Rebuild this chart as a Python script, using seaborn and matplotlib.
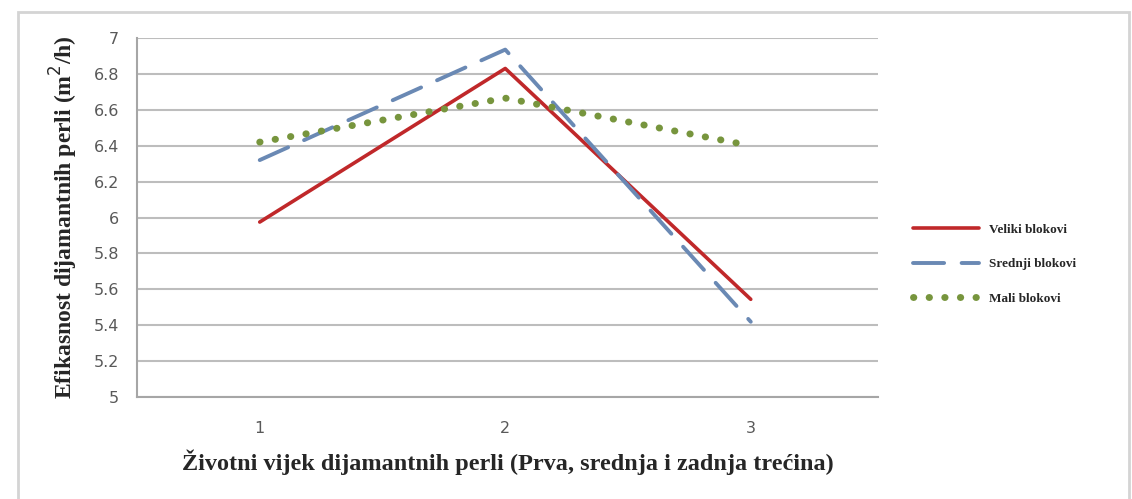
import matplotlib.pyplot as plt
import pandas as pd
import seaborn as sns
from matplotlib.patches import Rectangle

# data
thirds = [1, 2, 3]
veliki = [5.975, 6.83, 5.545]
srednji = [6.32, 6.935, 5.42]
mali = [6.42, 6.665, 6.40]

df = pd.DataFrame({
    "x": thirds * 3,
    "y": veliki + srednji + mali,
    "series": ["Veliki blokovi"] * 3 + ["Srednji blokovi"] * 3 + ["Mali blokovi"] * 3,
})

sns.set_style("white")
plt.rcParams["lines.dash_capstyle"] = "round"
plt.rcParams["lines.solid_capstyle"] = "round"

fig = plt.figure(figsize=(11.32, 4.99), dpi=100)
ax = fig.add_axes([0.121, 0.204, 0.655, 0.72])

# outer frame of the chart
fig.patches.append(Rectangle((0.016, -0.05), 0.981, 1.026, transform=fig.transFigure,
                             fill=False, edgecolor="#d4d4d4", linewidth=2))

styles = {
    "Veliki blokovi": dict(color="#c0282a", ls="-", lw=2.6),
    "Srednji blokovi": dict(color="#6a89b4", ls=(0, (8, 4.5)), lw=2.8),
    "Mali blokovi": dict(color="#77953d", ls=(0, (0.05, 2.2)), lw=5),
}
for name, st in styles.items():
    sns.lineplot(data=df[df["series"] == name], x="x", y="y", ax=ax, label=name,
                 color=st["color"], linestyle=st["ls"], linewidth=st["lw"])

ax.set_xlim(0.5, 3.52)
ax.set_ylim(5, 7)
ax.set_xticks(thirds)
ax.set_xticklabels(["1", "2", "3"])
ax.set_yticks([5 + 0.2 * i for i in range(11)])
ax.set_yticklabels(["5", "5.2", "5.4", "5.6", "5.8", "6", "6.2", "6.4", "6.6", "6.8", "7"])
ax.yaxis.grid(True, color="#bdbdbd", linewidth=1.5)
ax.set_axisbelow(True)
for s in ["top", "right"]:
    ax.spines[s].set_visible(False)
for s in ["left", "bottom"]:
    ax.spines[s].set_color("#a6a6a6")
    ax.spines[s].set_linewidth(1.5)
ax.tick_params(axis="both", colors="#a6a6a6", length=5, width=1.2, labelcolor="#595959",
               labelsize=11.5, direction="out", pad=8)
ax.tick_params(axis="x", pad=12)

ax.set_xlabel("Životni vijek dijamantnih perli (Prva, srednja i zadnja trećina)",
              family="Liberation Serif", fontweight="bold", fontsize=17.5, labelpad=10)
ax.set_ylabel("Efikasnost dijamantnih perli (m$^2$/h)",
              family="Liberation Serif", fontweight="bold", fontsize=17, labelpad=10)

ax.legend(loc="center left", bbox_to_anchor=(1.03, 0.37), frameon=False, handlelength=5,
          labelspacing=1.7, prop={"family": "Liberation Serif", "weight": "bold", "size": 9.5})

fig.savefig("out.png", dpi=100)
